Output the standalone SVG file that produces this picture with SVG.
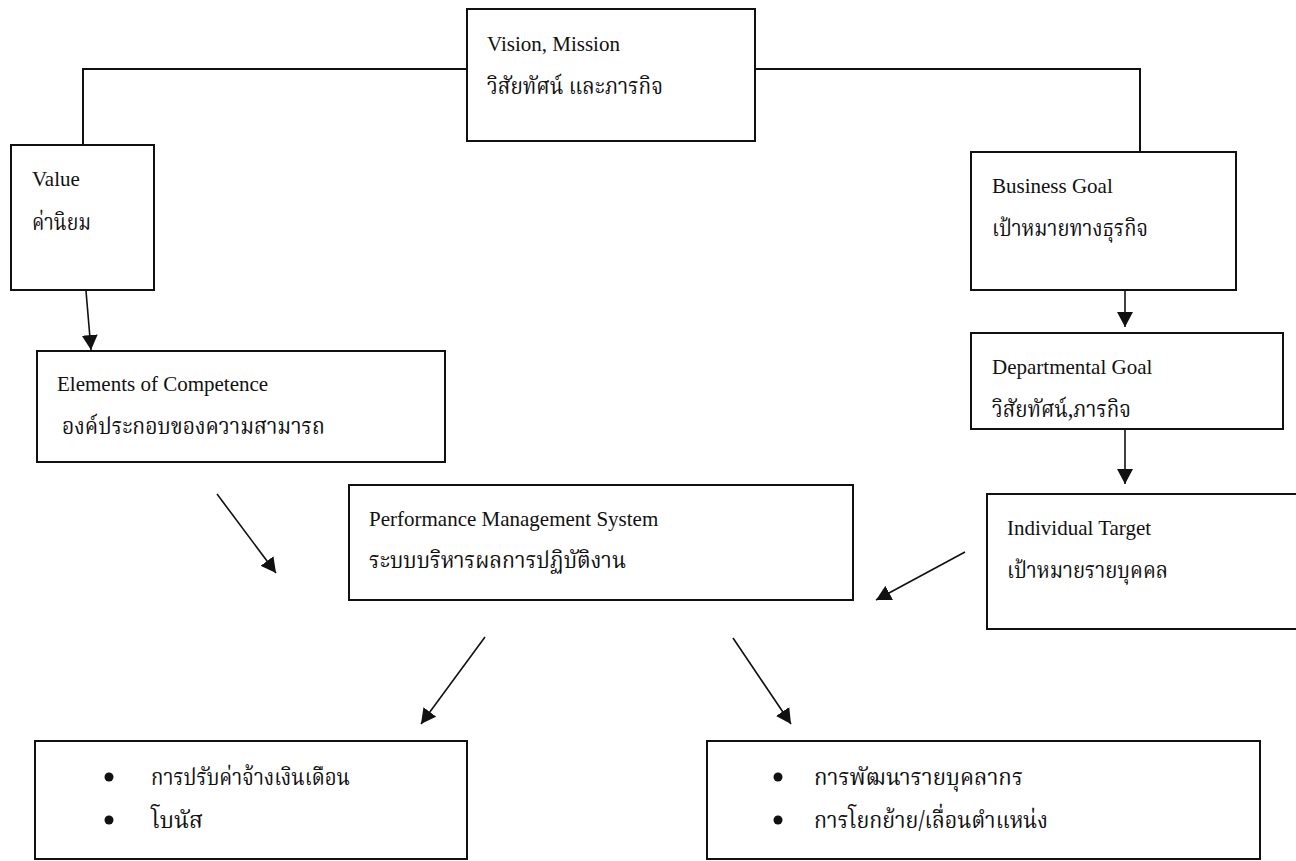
<svg xmlns="http://www.w3.org/2000/svg" width="1296" height="861" viewBox="0 0 1296 861">
<style>
.box{fill:#fff;stroke:#111;stroke-width:2}
.t{font-family:"Liberation Serif","Noto Serif Thai","Noto Sans Thai","Noto Sans","DejaVu Sans",serif;font-size:21px;fill:#111}
.th{font-family:"Noto Serif Thai","Noto Sans Thai","Liberation Serif","Noto Sans","DejaVu Sans",serif;font-size:23px;fill:#111}
.ln{fill:none;stroke:#111;stroke-width:2}
.ar{fill:none;stroke:#111;stroke-width:1.6;marker-end:url(#ah)}
.dot{fill:#111}
</style>
<defs>
<marker id="ah" markerUnits="userSpaceOnUse" markerWidth="16" markerHeight="16" refX="15" refY="8" orient="auto">
<path d="M0,0 L15,8 L0,16 Z" fill="#111"/>
</marker>
</defs>
<rect width="1296" height="861" fill="#fff"/>
<g id="connectors">
<polyline class="ln" points="83,145 83,69 467,69"/>
<polyline class="ln" points="755,69 1140,69 1140,152"/>
<line class="ar" x1="86" y1="291" x2="91" y2="350"/>
<line class="ar" x1="1125" y1="291" x2="1125" y2="327"/>
<line class="ar" x1="1125" y1="430" x2="1125" y2="484"/>
<line class="ar" x1="217" y1="494" x2="276" y2="573"/>
<line class="ar" x1="965" y1="552" x2="876" y2="600"/>
<line class="ar" x1="485" y1="637" x2="421" y2="724"/>
<line class="ar" x1="733" y1="638" x2="791" y2="724"/>
</g>
<g id="vision">
<rect class="box" x="467" y="9" width="288" height="132"/>
<text class="t" x="487" y="51">Vision, Mission</text>
<text class="th" x="487" y="94" textLength="176" lengthAdjust="spacingAndGlyphs">วิสัยทัศน์ และภารกิจ</text>
</g>
<g id="value">
<rect class="box" x="11" y="145" width="143" height="145"/>
<text class="t" x="32" y="186">Value</text>
<text class="th" x="32" y="230" textLength="59" lengthAdjust="spacingAndGlyphs">ค่านิยม</text>
</g>
<g id="business">
<rect class="box" x="971" y="152" width="265" height="138"/>
<text class="t" x="992" y="193">Business Goal</text>
<text class="th" x="992" y="236" textLength="156" lengthAdjust="spacingAndGlyphs">เป้าหมายทางธุรกิจ</text>
</g>
<g id="departmental">
<rect class="box" x="971" y="333" width="312" height="96"/>
<text class="t" x="992" y="374">Departmental Goal</text>
<text class="th" x="992" y="417" textLength="139" lengthAdjust="spacingAndGlyphs">วิสัยทัศน์,ภารกิจ</text>
</g>
<g id="individual">
<rect class="box" x="987" y="494" width="312" height="135"/>
<text class="t" x="1007" y="535">Individual Target</text>
<text class="th" x="1007" y="578" textLength="161" lengthAdjust="spacingAndGlyphs">เป้าหมายรายบุคคล</text>
</g>
<g id="elements">
<rect class="box" x="37" y="351" width="408" height="111"/>
<text class="t" x="57" y="391">Elements of Competence</text>
<text class="th" x="62" y="434" textLength="263" lengthAdjust="spacingAndGlyphs">องค์ประกอบของความสามารถ</text>
</g>
<g id="pms">
<rect class="box" x="349" y="485" width="504" height="115"/>
<text class="t" x="369" y="526">Performance Management System</text>
<text class="th" x="369" y="568" textLength="257" lengthAdjust="spacingAndGlyphs">ระบบบริหารผลการปฏิบัติงาน</text>
</g>
<g id="compensation">
<rect class="box" x="35" y="741" width="432" height="118"/>
<circle class="dot" cx="109" cy="777" r="4.5"/>
<text class="th" x="151" y="785" textLength="199" lengthAdjust="spacingAndGlyphs">การปรับค่าจ้างเงินเดือน</text>
<circle class="dot" cx="109" cy="820" r="4.5"/>
<text class="th" x="151" y="828" textLength="52" lengthAdjust="spacingAndGlyphs">โบนัส</text>
</g>
<g id="development">
<rect class="box" x="707" y="741" width="553" height="118"/>
<circle class="dot" cx="778" cy="777" r="4.5"/>
<text class="th" x="814" y="785" textLength="209" lengthAdjust="spacingAndGlyphs">การพัฒนารายบุคลากร</text>
<circle class="dot" cx="778" cy="820" r="4.5"/>
<text class="th" x="814" y="828" textLength="234" lengthAdjust="spacingAndGlyphs">การโยกย้าย/เลื่อนตำแหน่ง</text>
</g>
</svg>
